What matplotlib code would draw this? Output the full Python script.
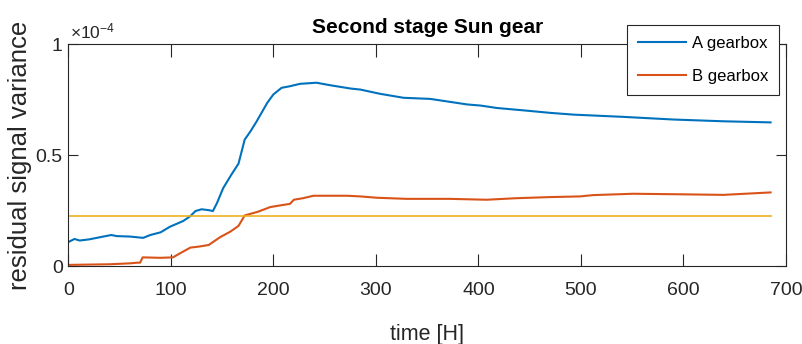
import numpy as np
import matplotlib
matplotlib.use("Agg")
import matplotlib.pyplot as plt

# --- data (variance in units of 1e-4) ---
time_a = [0, 6, 11, 20, 31, 42, 47, 60, 73, 80, 90, 99, 112, 119, 124, 130, 137, 141,
          145, 151, 159, 166, 172, 178, 184, 194, 200, 208, 216, 226, 242, 255, 275, 285,
          304, 327, 353, 389, 402, 418, 447, 470, 493, 541, 590, 639, 685]
var_a = [0.108, 0.122, 0.115, 0.12, 0.13, 0.14, 0.135, 0.133, 0.127, 0.14, 0.152, 0.177,
         0.203, 0.225, 0.248, 0.256, 0.252, 0.248, 0.284, 0.351, 0.412, 0.462, 0.57, 0.61,
         0.655, 0.736, 0.774, 0.804, 0.811, 0.822, 0.827, 0.816, 0.801, 0.796, 0.777, 0.759,
         0.754, 0.729, 0.724, 0.713, 0.701, 0.691, 0.683, 0.673, 0.661, 0.653, 0.648]

time_b = [0, 41, 60, 67, 70, 72.5, 90, 102, 110, 119, 128, 137, 148, 158, 166, 172, 185,
          197, 210, 216, 220, 229, 239, 272, 285, 301, 330, 372, 408, 437, 470, 499, 512,
          551, 590, 639, 685]
var_b = [0.005, 0.008, 0.012, 0.015, 0.015, 0.039, 0.037, 0.039, 0.06, 0.083, 0.088, 0.095,
         0.13, 0.155, 0.181, 0.228, 0.245, 0.266, 0.276, 0.28, 0.299, 0.306, 0.317, 0.317,
         0.314, 0.308, 0.303, 0.303, 0.299, 0.306, 0.311, 0.314, 0.32, 0.326, 0.324, 0.321,
         0.332]

threshold = 0.225
time_end = 685

scale = 1e-4
ink = "#262626"

plt.rcParams["font.family"] = ["Liberation Sans", "DejaVu Sans"]
plt.rcParams["mathtext.fontset"] = "custom"
plt.rcParams["mathtext.rm"] = "Liberation Sans"

fig = plt.figure(figsize=(8.02, 3.44), dpi=100)
ax = fig.add_axes([0.0852, 0.2267, 0.8948, 0.6443])

ax.plot(time_a, np.array(var_a) * scale, color="#0072BD", lw=1.5, label="A gearbox")
ax.plot(time_b, np.array(var_b) * scale, color="#D95319", lw=1.5, label="B gearbox")
ax.plot([0, time_end], [threshold * scale] * 2, color="#EDB120", lw=1.2)

ax.set_xlim(0, 700)
ax.set_ylim(0, 1e-4)
ax.set_xticks(range(0, 701, 100))
ax.set_yticks([0, 0.5e-4, 1e-4])
ax.set_yticklabels(["0", "0.5", "1"])

ax.tick_params(axis="both", direction="in", top=True, right=True, colors=ink,
               labelsize=14, width=0.8)
ax.tick_params(axis="x", length=9, pad=11.5)
ax.tick_params(axis="y", length=7, pad=4)
for sp in ax.spines.values():
    sp.set_color(ink)
    sp.set_linewidth(0.8)

ax.set_xlabel("time [H]", fontsize=15.5, color=ink)
ax.xaxis.set_label_coords(0.5, -0.263)
ax.set_ylabel("residual signal variance", fontsize=18.5, color=ink)
ax.yaxis.set_label_coords(-0.05, 0.5)
ax.set_title("Second stage Sun gear", fontsize=15, fontweight="bold", color="black", pad=8)

ax.text(0.002, 1.027, r"$\times\mathregular{10^{-4}}$", transform=ax.transAxes,
        fontsize=12.5, color=ink, ha="left", va="baseline")

leg = ax.legend(loc="upper left", bbox_to_anchor=(627 / 802, 1 - 25 / 344),
                bbox_transform=fig.transFigure, fontsize=12, frameon=True, fancybox=False,
                handlelength=2.9, handletextpad=0.36, labelspacing=1.1, borderpad=0.65,
                borderaxespad=0)
leg.get_frame().set_edgecolor(ink)
leg.get_frame().set_linewidth(0.8)
leg.get_frame().set_alpha(1)

fig.savefig("out.png", dpi=100)
